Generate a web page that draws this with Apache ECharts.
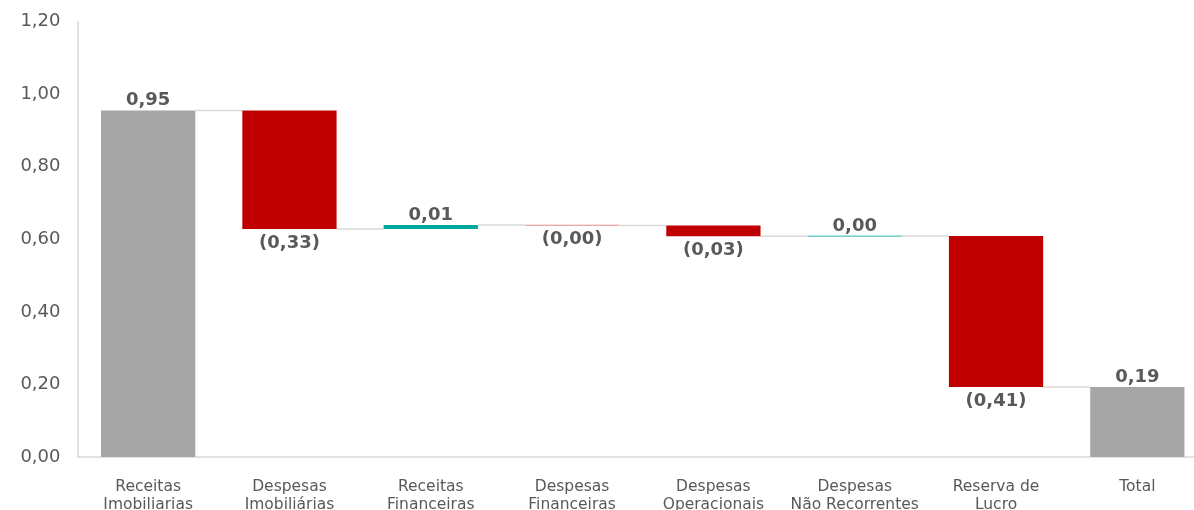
<!DOCTYPE html>
<html>
<head>
<meta charset="utf-8">
<script src="https://cdn.jsdelivr.net/npm/echarts@6/dist/echarts.min.js"></script>
<style>html,body{margin:0;padding:0;background:#fff;}#c{width:1194px;height:510px;}</style>
</head>
<body>
<div id="c"></div>
<script>
var categories = ["Receitas\nImobiliarias", "Despesas\nImobiliárias", "Receitas\nFinanceiras", "Despesas\nFinanceiras", "Despesas\nOperacionais", "Despesas\nNão Recorrentes", "Reserva de\nLucro", "Total"];
var changes = [0.955, -0.327, 0.011, -0.001, -0.030, 0.001, -0.416, 0.193];
var isTotal = [true, false, false, false, false, false, false, true];
var valueLabels = ["0,95", "(0,33)", "0,01", "(0,00)", "(0,03)", "0,00", "(0,41)", "0,19"];
var yTicks = [0, 0.2, 0.4, 0.6, 0.8, 1.0, 1.2];

var GRAY = '#A6A6A6', RED = '#C00000', TEAL = '#00A99D';

var base = [], vis = [], ends = [];
var cum = 0;
for (var i = 0; i < changes.length; i++) {
  var start, end;
  if (isTotal[i]) { start = 0; end = changes[i]; cum = end; }
  else { start = cum; end = cum + changes[i]; cum = end; }
  ends.push(end);
  var lo = Math.min(start, end), h = Math.abs(end - start);
  var color = isTotal[i] ? GRAY : (changes[i] >= 0 ? TEAL : RED);
  base.push(lo);
  var neg = !isTotal[i] && changes[i] < 0;
  vis.push({
    value: h,
    itemStyle: { color: color, borderColor: neg ? '#E57373' : color, borderWidth: (h < 0.004 ? 0.5 : 0) },
    label: { position: neg ? 'bottom' : 'top', distance: neg ? 5 : 1 }
  });
}
var connectors = [];
for (var j = 0; j < ends.length - 1; j++) connectors.push([j, ends[j]]);

var chart = echarts.init(document.getElementById('c'));
chart.setOption({
  animation: false,
  grid: { left: 77.5, top: 21.5, right: -14, bottom: 53, containLabel: false, outerBoundsMode: 'none' },
  xAxis: {
    type: 'category', data: categories,
    axisLine: { lineStyle: { color: '#D9D9D9', width: 1.5 } },
    axisTick: { show: false },
    axisLabel: { color: '#595959', fontFamily: 'DejaVu Sans', fontSize: 15.5, lineHeight: 18, margin: 21, interval: 0 }
  },
  yAxis: {
    type: 'value', min: 0, max: 1.2, interval: 0.2,
    axisLine: { show: true, lineStyle: { color: '#D9D9D9', width: 1.5 } },
    axisTick: { show: false },
    splitLine: { show: false },
    axisLabel: { color: '#595959', fontFamily: 'DejaVu Sans', fontSize: 18, margin: 17, verticalAlign: 'middle', padding: [4, 0, 0, 0],
      formatter: function (v) { return v.toFixed(2).replace('.', ','); } }
  },
  series: [
    {
      type: 'custom',
      z: 1,
      renderItem: function (params, api) {
        var i = api.value(0), y = api.value(1);
        var p1 = api.coord([i, y]);
        var p2 = api.coord([i + 1, y]);
        var bw = api.size([1, 0])[0] * 2 / 3;
        return { type: 'line', shape: { x1: p1[0] + bw / 2, y1: p1[1], x2: p2[0] - bw / 2, y2: p2[1] },
          style: { stroke: '#D9D9D9', lineWidth: 1.5 } };
      },
      data: connectors
    },
    {
      type: 'bar', stack: 'w', barWidth: '66.7%', z: 2,
      itemStyle: { color: 'transparent' },
      emphasis: { disabled: true },
      data: base
    },
    {
      type: 'bar', stack: 'w', barWidth: '66.7%', z: 3,
      label: {
        show: true, color: '#595959', fontFamily: 'DejaVu Sans', fontSize: 18, fontWeight: 'bold',
        formatter: function (p) { return valueLabels[p.dataIndex]; }
      },
      data: vis
    }
  ]
});
</script>
</body>
</html>
